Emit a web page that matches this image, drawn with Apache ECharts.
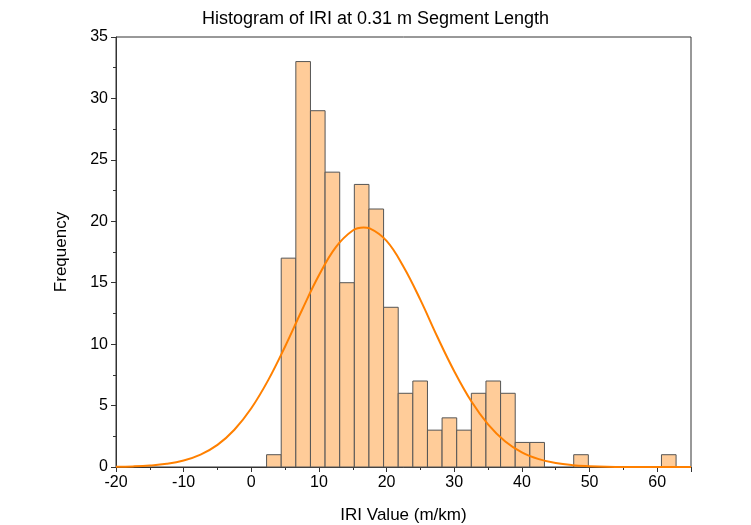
<!DOCTYPE html>
<html>
<head>
<meta charset="utf-8">
<script src="https://cdn.jsdelivr.net/npm/echarts@6/dist/echarts.min.js"></script>
<style>
  html, body { margin: 0; padding: 0; background: #fff; }
  #chart { width: 751px; height: 525px; }
</style>
</head>
<body>
<div id="chart"></div>
<script>
// histogram bins (left edge of first bin, bin width) and counts
const binStart = 2.26;
const binWidth = 2.162;
const binCounts = [1, 17, 33, 29, 24, 15, 23, 21, 13, 6, 7, 3, 4, 3, 6, 7, 6, 2, 2, 0, 0, 1, 0, 0, 0, 0, 0, 1];

// fitted normal curve
const curveX = [-20, -17.5, -15, -12.5, -10, -7.5, -5, -2.5, 0, 2.5, 5, 7.5, 10, 12.5, 15, 16.6, 17.5, 20, 22.5, 25, 27.5, 30, 32.5, 35, 37.5, 40, 42.5, 45, 47.5, 50, 52.5, 55, 60, 65];
const curveY = [0.02, 0.05, 0.12, 0.26, 0.53, 1.01, 1.8, 3.03, 4.78, 7.07, 9.81, 12.78, 15.6, 17.9, 19.25, 19.5, 19.42, 18.4, 16.3, 13.6, 10.6, 7.8, 5.37, 3.47, 2.1, 1.19, 0.64, 0.32, 0.15, 0.07, 0.02, 0, 0, 0];

// tick settings
const xMin = -20, xMax = 65, xStep = 10;
const yMin = 0, yMax = 35, yStep = 5;

const bars = binCounts.map((c, i) => [binStart + i * binWidth, binStart + (i + 1) * binWidth, c]);
const curve = curveX.map((x, i) => [x, curveY[i]]);

const font = 'Arial, "Liberation Sans", sans-serif';
let myChart = echarts.init(document.getElementById('chart'));

myChart.setOption({
    backgroundColor: '#fff',
    animation: false,
    title: {
        text: 'Histogram of IRI at 0.31 m Segment Length',
        left: 'center',
        top: 5,
        textStyle: { fontFamily: font, fontSize: 18, fontWeight: 'normal', color: '#000' }
    },
    grid: {
        left: 116,
        right: 60,
        top: 37,
        bottom: 58,
        outerBoundsMode: 'none',
        containLabel: false,
        show: true,
        borderColor: '#333',
        borderWidth: 1
    },
    xAxis: {
        type: 'value',
        min: xMin,
        max: xMax,
        interval: xStep,
        name: 'IRI Value (m/km)',
        nameLocation: 'middle',
        nameGap: 40,
        nameTextStyle: { fontFamily: font, fontSize: 17, color: '#000' },
        axisLine: { show: true, onZero: false, lineStyle: { color: '#333', width: 1 } },
        axisTick: { show: true, inside: false, length: 5, lineStyle: { color: '#333' } },
        minorTick: { show: true, splitNumber: 2, length: 3, lineStyle: { color: '#333' } },
        axisLabel: { fontFamily: font, fontSize: 16, color: '#000', margin: 8, showMaxLabel: false },
        splitLine: { show: false }
    },
    yAxis: {
        type: 'value',
        min: yMin,
        max: yMax,
        interval: yStep,
        name: 'Frequency',
        nameLocation: 'middle',
        nameGap: 46,
        nameTextStyle: { fontFamily: font, fontSize: 17, color: '#000' },
        axisLine: { show: true, onZero: false, lineStyle: { color: '#333', width: 1 } },
        axisTick: { show: true, inside: false, length: 5, lineStyle: { color: '#333' } },
        minorTick: { show: true, splitNumber: 2, length: 3, lineStyle: { color: '#333' } },
        axisLabel: { fontFamily: font, fontSize: 16, color: '#000', margin: 8 },
        splitLine: { show: false }
    },
    series: [
        {
            type: 'custom',
            data: bars,
            encode: { x: [0, 1], y: 2 },
            renderItem: function (params, api) {
                const p0 = api.coord([api.value(0), 0]);
                const p1 = api.coord([api.value(1), api.value(2)]);
                if (api.value(2) <= 0) return;
                return {
                    type: 'rect',
                    shape: { x: p0[0], y: p1[1], width: p1[0] - p0[0], height: p0[1] - p1[1] },
                    style: { fill: '#FFCC99', stroke: '#555', lineWidth: 1 }
                };
            },
            z: 2
        },
        {
            type: 'line',
            data: curve,
            smooth: 0.4,
            showSymbol: false,
            lineStyle: { color: '#FF8000', width: 2 },
            z: 3
        }
    ]
});
</script>
</body>
</html>
